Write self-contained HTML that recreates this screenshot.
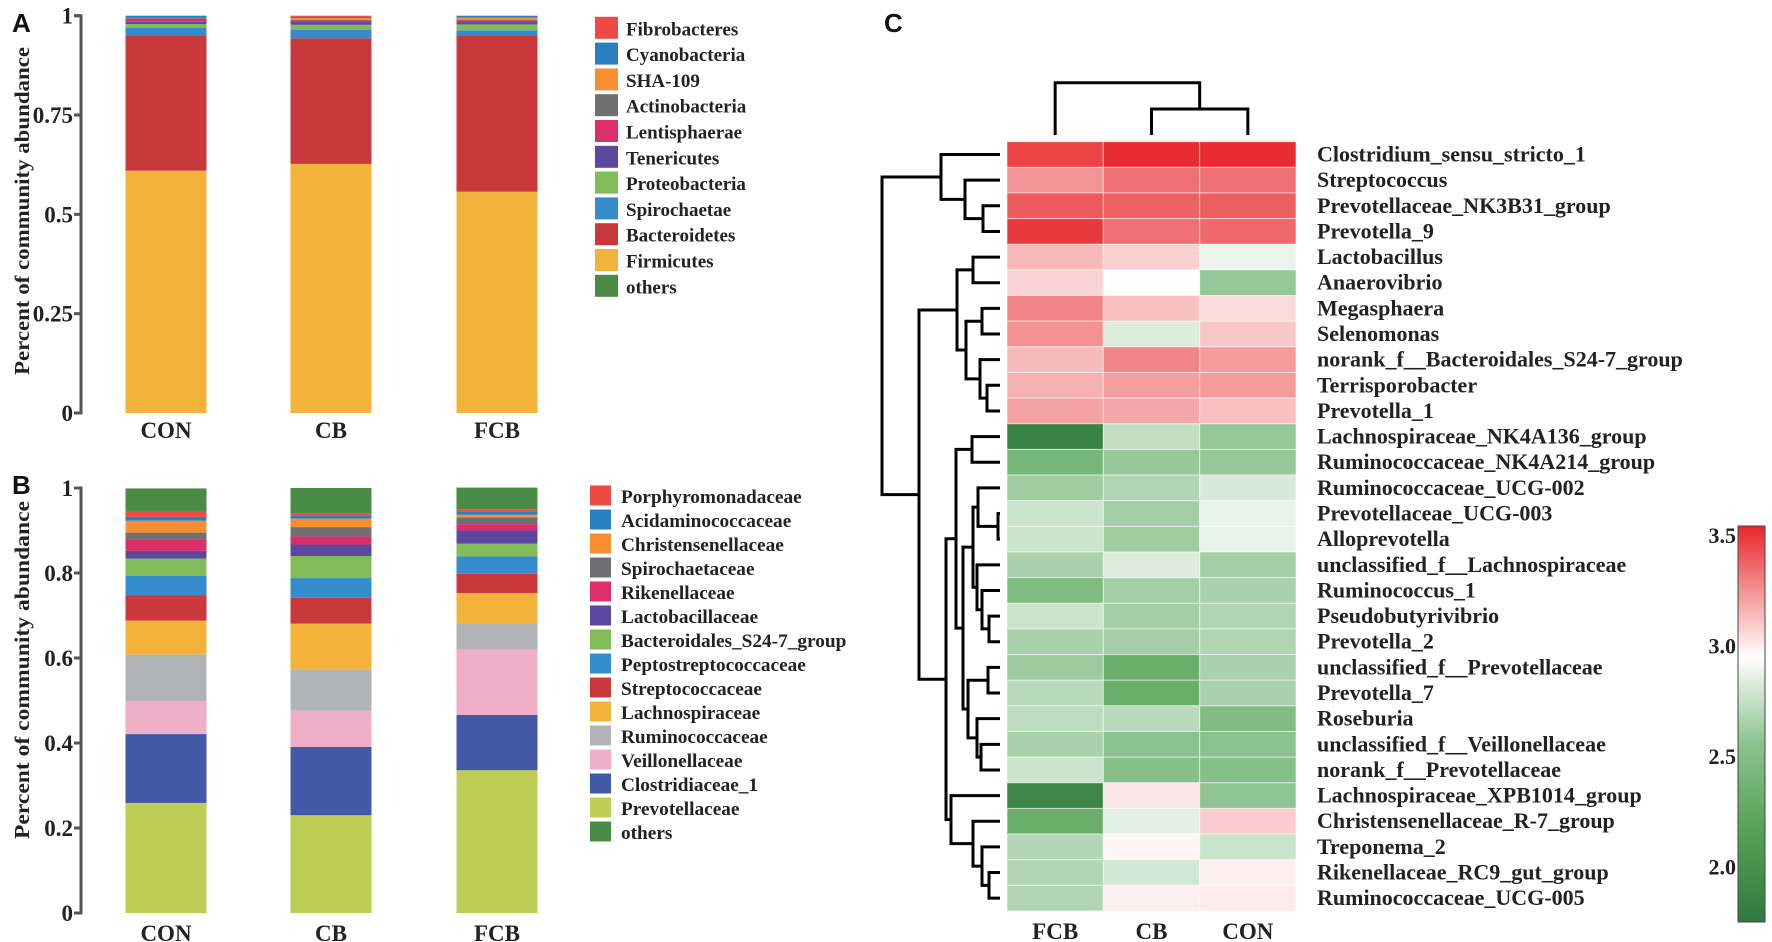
<!DOCTYPE html>
<html><head><meta charset="utf-8"><style>
html,body{margin:0;padding:0;background:#fff;}
svg{display:block;}
text{font-family:"Liberation Serif",serif;font-weight:bold;fill:#222;}
.lbl{font-family:"Liberation Sans",sans-serif;font-weight:bold;fill:#111;}
</style></head><body>
<svg id="fig" width="1772" height="942" viewBox="0 0 1772 942" xmlns="http://www.w3.org/2000/svg">
<defs>
<linearGradient id="cbgrad" x1="0" y1="1" x2="0" y2="0">
<stop offset="0" stop-color="#2f7a3c"/>
<stop offset="0.25" stop-color="#5aa55a"/>
<stop offset="0.45" stop-color="#8cc28f"/>
<stop offset="0.67" stop-color="#ffffff"/>
<stop offset="1" stop-color="#e8262a"/>
</linearGradient>
</defs>
<g id="panelA"></g>
<g id="panelB"></g>
<g id="panelC"></g>
</svg>
<script>
// ---------- Panel A data ----------
const groupsA = ["CON","CB","FCB"];
const phylaA = ["Firmicutes","Bacteroidetes","Spirochaetae","Proteobacteria","Tenericutes","Lentisphaerae","Actinobacteria","SHA-109","Cyanobacteria","Fibrobacteres","others"];
const phylaColors = ["#f3b33a","#c9393c","#348ccd","#82bb5a","#5d48a0","#dc2e6a","#707073","#f78f30","#2a7fc1","#ee4a45","#4a8c45"];
const conA = [0.610,0.340,0.020,0.009,0.006,0.007,0.003,0.000,0.005,0.000,0.000];
const cbA  = [0.627,0.316,0.021,0.013,0.007,0.004,0.002,0.004,0.003,0.003,0.000];
const fcbA = [0.557,0.393,0.013,0.015,0.006,0.004,0.002,0.005,0.005,0.000,0.000];
const legendA = ["Fibrobacteres","Cyanobacteria","SHA-109","Actinobacteria","Lentisphaerae","Tenericutes","Proteobacteria","Spirochaetae","Bacteroidetes","Firmicutes","others"];
const ticksA = [0,0.25,0.5,0.75,1];
const tickLabelsA = ["0","0.25","0.5","0.75","1"];

// ---------- Panel B data ----------
const familiesB = ["Prevotellaceae","Clostridiaceae_1","Veillonellaceae","Ruminococcaceae","Lachnospiraceae","Streptococcaceae","Peptostreptococcaceae","Bacteroidales_S24-7_group","Lactobacillaceae","Rikenellaceae","Spirochaetaceae","Christensenellaceae","Acidaminococcaceae","Porphyromonadaceae","others"];
const familyColors = ["#bccf54","#4259a8","#efb0c7","#b2b3b6","#f3b33a","#c9393c","#348ccd","#82bb5a","#5d48a0","#dc2e6a","#707073","#f78f30","#2a7fc1","#ee4a45","#4a8c45"];
const conB = [0.259,0.162,0.077,0.110,0.080,0.059,0.046,0.041,0.018,0.027,0.016,0.028,0.009,0.014,0.053];
const cbB  = [0.230,0.161,0.085,0.096,0.109,0.061,0.046,0.052,0.027,0.019,0.022,0.020,0.008,0.005,0.059];
const fcbB = [0.336,0.130,0.154,0.062,0.071,0.045,0.041,0.030,0.031,0.015,0.016,0.006,0.008,0.005,0.051];
const legendB = ["Porphyromonadaceae","Acidaminococcaceae","Christensenellaceae","Spirochaetaceae","Rikenellaceae","Lactobacillaceae","Bacteroidales_S24-7_group","Peptostreptococcaceae","Streptococcaceae","Lachnospiraceae","Ruminococcaceae","Veillonellaceae","Clostridiaceae_1","Prevotellaceae","others"];
const ticksB = [0,0.2,0.4,0.6,0.8,1];
const tickLabelsB = ["0","0.2","0.4","0.6","0.8","1"];

// ---------- Panel C data ----------
const heatCols = ["FCB","CB","CON"];
const heatRows = ["Clostridium_sensu_stricto_1","Streptococcus","Prevotellaceae_NK3B31_group","Prevotella_9","Lactobacillus","Anaerovibrio","Megasphaera","Selenomonas","norank_f__Bacteroidales_S24-7_group","Terrisporobacter","Prevotella_1","Lachnospiraceae_NK4A136_group","Ruminococcaceae_NK4A214_group","Ruminococcaceae_UCG-002","Prevotellaceae_UCG-003","Alloprevotella","unclassified_f__Lachnospiraceae","Ruminococcus_1","Pseudobutyrivibrio","Prevotella_2","unclassified_f__Prevotellaceae","Prevotella_7","Roseburia","unclassified_f__Veillonellaceae","norank_f__Prevotellaceae","Lachnospiraceae_XPB1014_group","Christensenellaceae_R-7_group","Treponema_2","Rikenellaceae_RC9_gut_group","Ruminococcaceae_UCG-005"];
const heatFCB = [3.42,3.07,3.32,3.46,2.93,2.83,3.13,3.08,2.92,2.96,3.02,1.80,2.11,2.28,2.45,2.45,2.32,2.15,2.45,2.32,2.27,2.38,2.40,2.32,2.45,1.82,2.05,2.36,2.35,2.35];
const heatCB  = [3.52,3.22,3.28,3.22,2.84,2.66,2.90,2.52,3.13,3.03,3.00,2.42,2.25,2.35,2.30,2.28,2.52,2.30,2.30,2.30,2.05,2.05,2.38,2.20,2.18,2.75,2.55,2.70,2.48,2.72];
const heatCON = [3.52,3.22,3.30,3.25,2.58,2.24,2.80,2.88,3.04,3.04,2.90,2.24,2.24,2.50,2.57,2.57,2.30,2.32,2.35,2.35,2.32,2.32,2.16,2.20,2.18,2.22,2.85,2.45,2.72,2.74];
const cbTicks = [2.0,2.5,3.0,3.5];
const cbTickLabels = ["2.0","2.5","3.0","3.5"];

const NS = "http://www.w3.org/2000/svg";
function mk(parent, tag, attrs, txt){
  const e = document.createElementNS(NS, tag);
  for (const k in attrs) e.setAttribute(k, attrs[k]);
  if (txt !== undefined) e.textContent = txt;
  parent.appendChild(e);
  return e;
}

function stackedPanel(g, yOf, groups, series, colors, names, ticks, tickLabels, axisTop, axisBot, letter, letterY, titleLen, titleCy, xLabY, legendNames, legendColors, legX, legY0, legStep, legSq, legFont){
  const letterEl = mk(g,"text",{x:12,y:letterY,"class":"lbl","font-size":26},letter);
  
  
  const title = mk(g,"text",{x:0,y:0,"font-size":21,"text-anchor":"middle",transform:`translate(29,${titleCy}) rotate(-90)`,textLength:titleLen,lengthAdjust:"spacingAndGlyphs"},"Percent of community abundance");
  
  
  const axis = mk(g,"path",{d:`M75 ${axisTop}H81V${axisBot}H75`,fill:"none",stroke:"#555","stroke-width":3});
  
  
  ticks.forEach((t,i)=>{
    const y = yOf(t);
    const tl = mk(g,"line",{x1:74,x2:81,y1:y,y2:y,stroke:"#555","stroke-width":3});
    
    
    const tx = mk(g,"text",{x:73,y:y+8,"font-size":23,"text-anchor":"end"},tickLabels[i]);
    
    
  });
  const centers = [166,331,497];
  const bw = 81;
  groups.forEach((grp,gi)=>{
    let acc = 0;
    series[gi].forEach((v,si)=>{
      if (v <= 0) return;
      const y1 = yOf(acc+v), y0 = yOf(acc);
      const r = mk(g,"rect",{x:centers[gi]-bw/2,y:y1,width:bw,height:Math.max(0,y0-y1),fill:colors[si]});
      
      
      acc += v;
    });
    const xl = mk(g,"text",{x:centers[gi],y:xLabY,"font-size":23,"text-anchor":"middle"},grp);
    
    
  });
  legendNames.forEach((n,i)=>{
    const cy = legY0 + i*legStep;
    const sq = mk(g,"rect",{x:legX,y:cy-legSq/2,width:legSq,height:legSq-1,fill:legendColors[i]});
    
    
    const tx = mk(g,"text",{x:legX+31,y:cy+7,"font-size":legFont},n);
    
    
  });
}

const gA = document.getElementById("panelA");
const yA = v => 413 - v*397.3;
const legColA = legendA.map(n=>phylaColors[phylaA.indexOf(n)]);
stackedPanel(gA, yA, groupsA, [conA,cbA,fcbA], phylaColors, phylaA, ticksA, tickLabelsA, yA(1), yA(0), "A", 32, 328, 211, 438, legendA, legColA, 595, 28.3, 25.8, 23, 19);

const gB = document.getElementById("panelB");
const yB = v => 913 - v*425;
const legColB = legendB.map(n=>familyColors[familiesB.indexOf(n)]);
stackedPanel(gB, yB, groupsA, [conB,cbB,fcbB], familyColors, familiesB, ticksB, tickLabelsB, yB(1), yB(0), "B", 494, 338, 670, 941, legendB, legColB, 590, 496, 24, 21, 19.3);

// ---------- Heatmap ----------
const gC = document.getElementById("panelC");
const cL = mk(gC,"text",{x:884,y:32,"class":"lbl","font-size":26},"C");


const HX0 = 1007, HX1 = 1296, HY0 = 141.7, HY1 = 911;
const colW = (HX1-HX0)/heatCols.length;
const rowH = (HY1-HY0)/heatRows.length;
const colX = c => HX0 + c*colW;
const rowY = r => HY0 + r*rowH;
const VMAX = 3.54, VMID = 2.66, VMIN = 1.75;
function mix(a,b,t){return a.map((x,i)=>Math.round(x+(b[i]-x)*t));}
function ramp(stops, t){
  t = Math.max(0, Math.min(1, t));
  for (let i=1;i<stops.length;i++){
    if (t <= stops[i][0]){
      const a = stops[i-1], b = stops[i];
      return mix(a[1], b[1], (t-a[0])/(b[0]-a[0]));
    }
  }
  return stops[stops.length-1][1];
}
const greenStops = [[0,[255,255,255]],[0.5,[140,194,143]],[0.75,[90,165,90]],[1,[47,122,60]]];
const redStops = [[0,[255,255,255]],[0.5,[242,140,142]],[1,[232,38,42]]];
function colorOf(v){
  const c = v >= VMID ? ramp(redStops,(v-VMID)/(VMAX-VMID)) : ramp(greenStops,(VMID-v)/(VMID-VMIN));
  return `rgb(${c[0]},${c[1]},${c[2]})`;
}
const heatSeries = [heatFCB, heatCB, heatCON];
heatRows.forEach((name,r)=>{
  heatSeries.forEach((arr,c)=>{
    const cell = mk(gC,"rect",{x:colX(c),y:rowY(r),width:colW,height:rowH,fill:colorOf(arr[r]),stroke:"rgba(255,255,255,0.55)","stroke-width":1});
    
    
  });
  const lb = mk(gC,"text",{x:1317,y:rowY(r)+rowH/2+7,"font-size":22},name);
  
  
});
heatCols.forEach((c,i)=>{
  const t = mk(gC,"text",{x:colX(i)+colW/2,y:939,"font-size":23,"text-anchor":"middle"},c);
  
  
});

const rowTree = [118,[59,1,[35,2,[17,3,4]]],[81,[43,[27,5,6],[34,[18,7,8],[20,9,[13,10,11]]]],[54,[44,[28,12,13],[37,[27,[22,14,[2,15,16]],[23,17,[18,18,[11,19,20]]]],[32,[12,21,22],[23,23,[19,24,25]]]]],[49,26,[27,27,[18,28,[11,29,30]]]]]]];
const dg = mk(gC,"g",{fill:"none",stroke:"#000","stroke-width":3});


const LEAFX = 1000;
function drawRow(node){
  if (typeof node === "number") return {y: rowY(node-1)+rowH/2, x: LEAFX};
  const a = drawRow(node[1]), b = drawRow(node[2]);
  const x = LEAFX - node[0];
  mk(dg,"path",{d:`M${a.x} ${a.y}H${x}V${b.y}H${b.x}`});
  return {y:(a.y+b.y)/2, x:x};
}
drawRow(rowTree);

const cdg = mk(gC,"g",{fill:"none",stroke:"#000","stroke-width":3});


const cc = i => colX(i)+colW/2;
mk(cdg,"path",{d:`M${cc(1)} 135V109H${cc(2)}V135`});
mk(cdg,"path",{d:`M${cc(0)} 135V82.7H${(cc(1)+cc(2))/2}V109`});

const CBY0 = 526, CBY1 = 922;
const cbY = v => CBY1 - (v-VMIN)/(VMAX-VMIN)*(CBY1-CBY0);
const cbar = mk(gC,"rect",{x:1738,y:CBY0,width:27,height:CBY1-CBY0,fill:"url(#cbgrad)",stroke:"#444","stroke-width":1});


cbTicks.forEach((t,i)=>{
  const tx = mk(gC,"text",{x:1736,y:cbY(t)+8,"font-size":22,"text-anchor":"end"},cbTickLabels[i]);
  
  
});
</script>
</body></html>
